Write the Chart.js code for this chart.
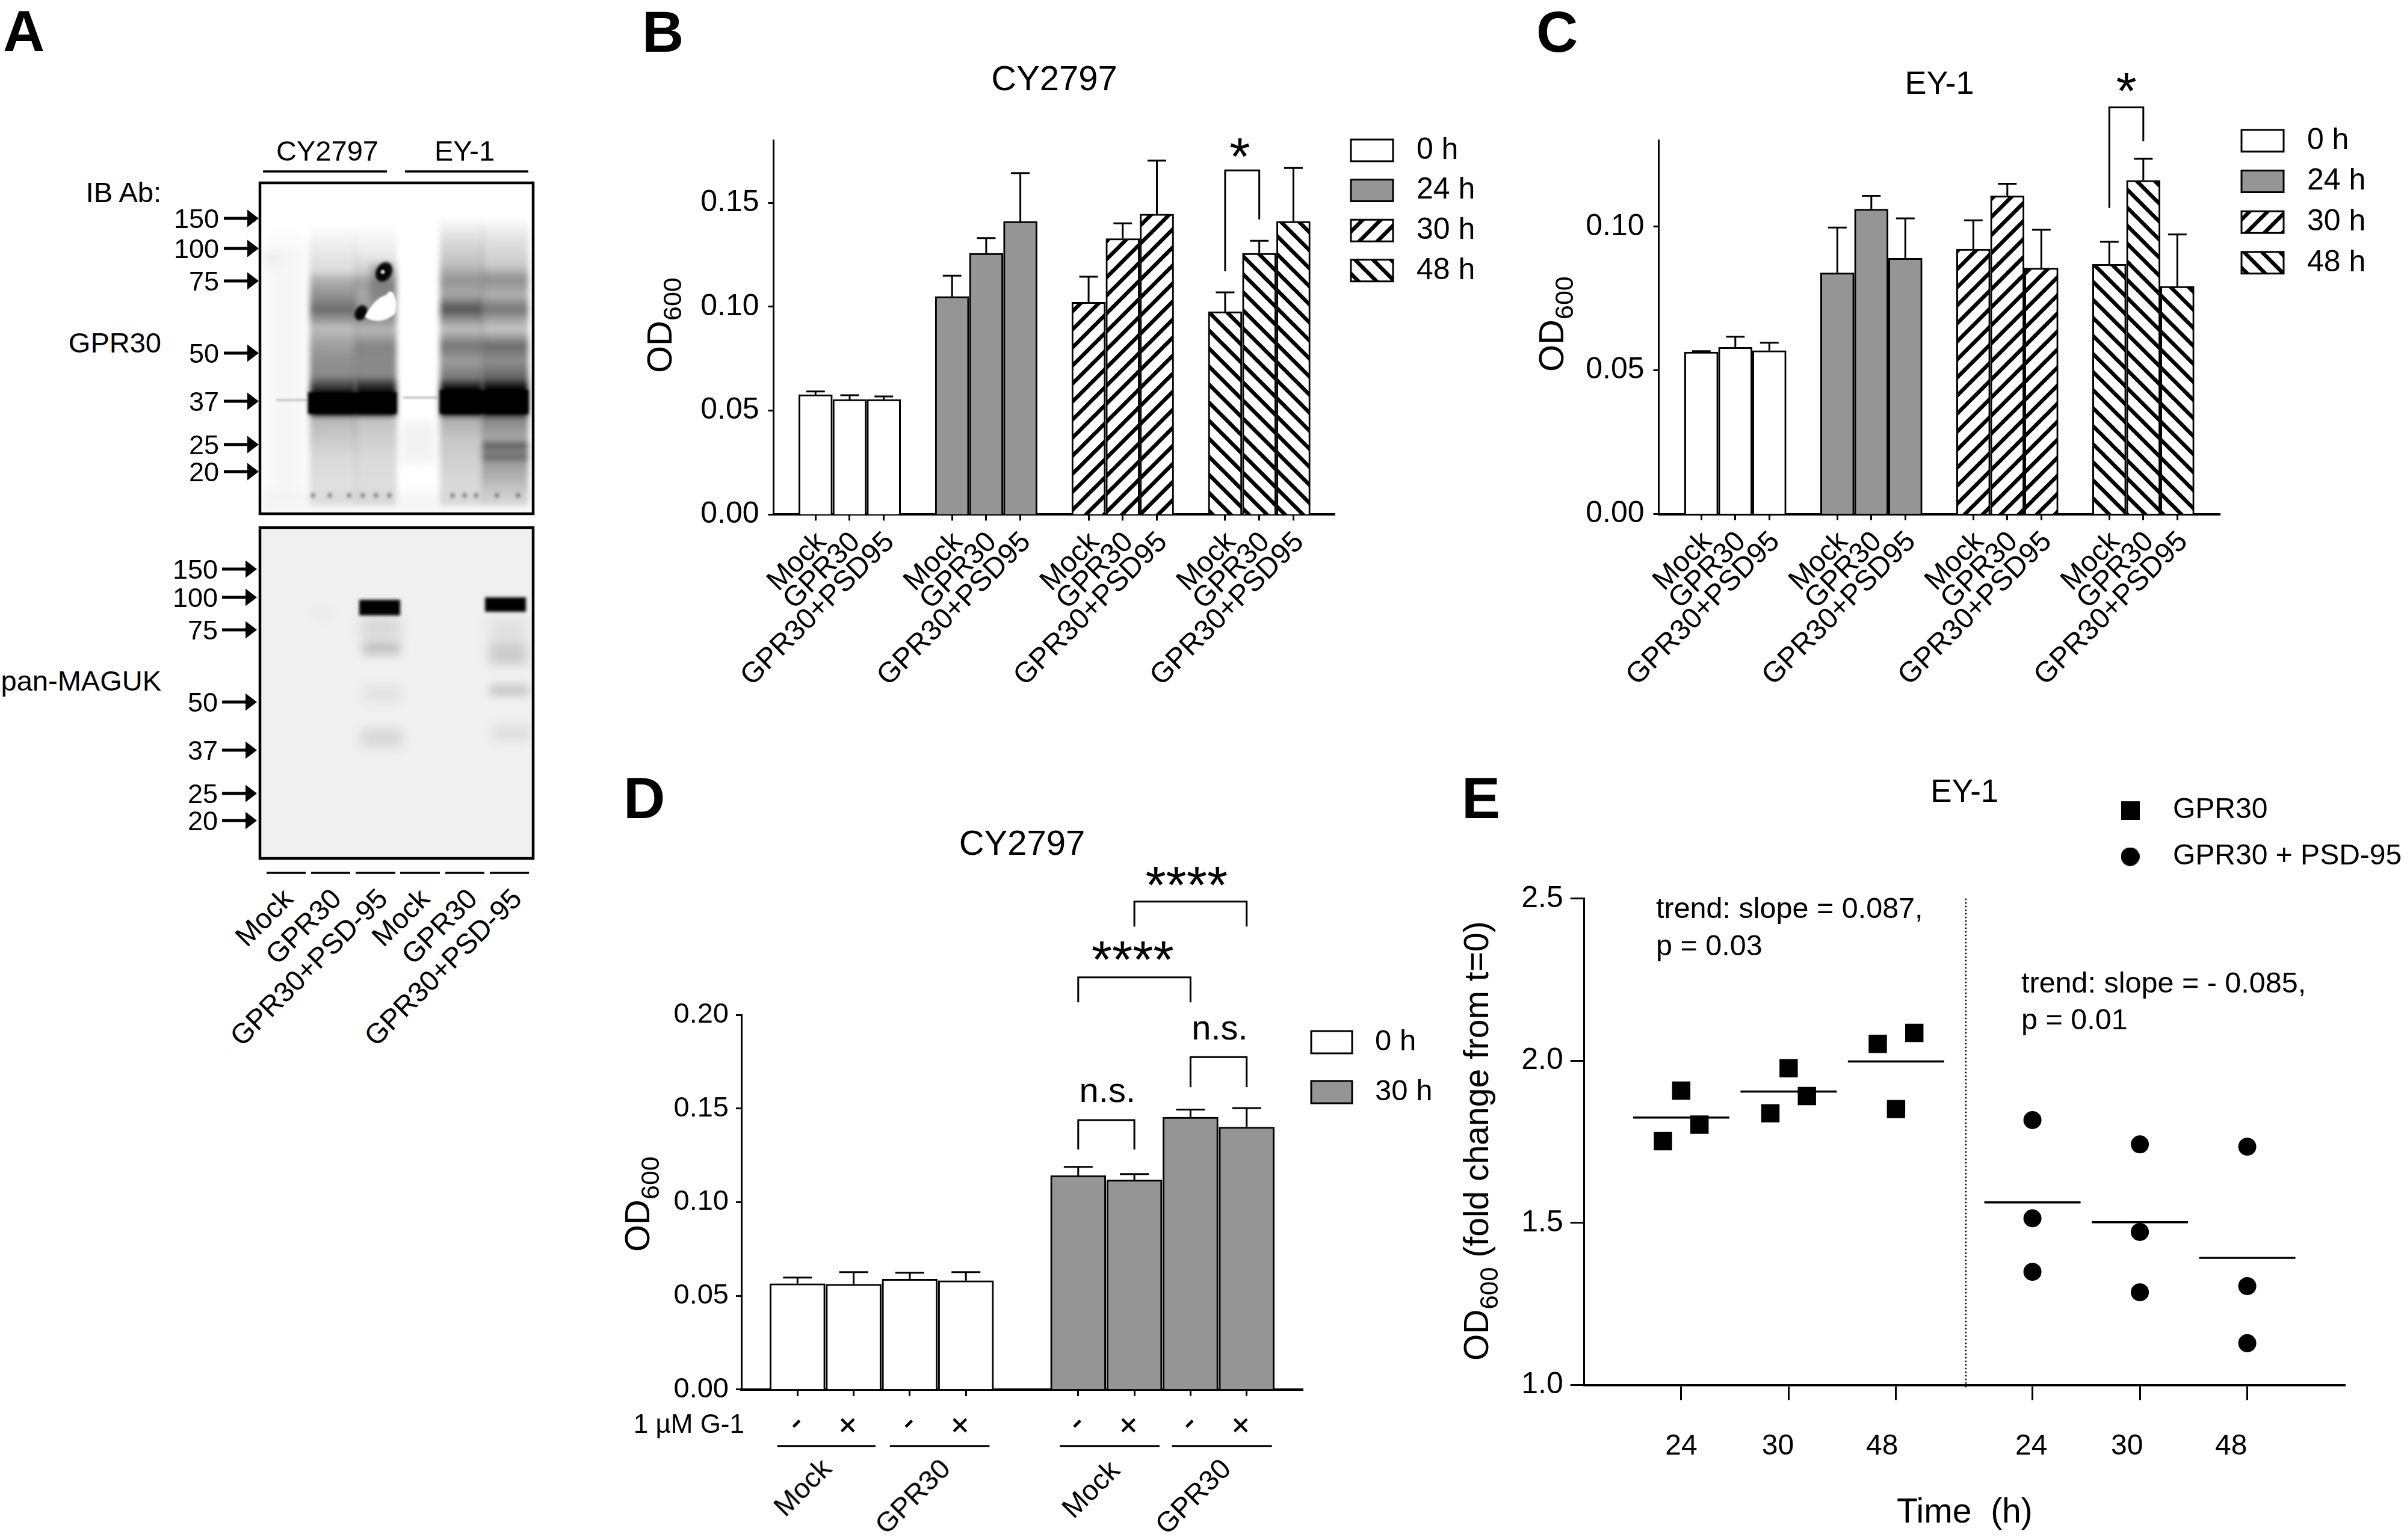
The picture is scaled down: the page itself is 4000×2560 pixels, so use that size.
<!DOCTYPE html>
<html>
<head>
<meta charset="utf-8">
<title>GPR30 figure</title>
<script src="https://cdn.jsdelivr.net/npm/chart.js@4"></script>
<style>
  html, body { margin: 0; background: #fff; }
  body { position: relative; width: 4000px; height: 2560px; overflow: hidden; font-family: "Liberation Sans", sans-serif; color: #000; }
  canvas { position: absolute; display: block; }
  .t { position: absolute; white-space: pre; line-height: 1; }
</style>
</head>
<body>
<script>
//panel B values
const conditions = ['Mock', 'GPR30', 'GPR30+PSD95'];
const timesB = ['0 h', '24 h', '30 h', '48 h'];
const bMeans0 = [0.0577, 0.0554, 0.0554];
const bErrs0 = [0.0015, 0.0020, 0.0014];
const bMeans24 = [0.1049, 0.1257, 0.1410];
const bErrs24 = [0.0100, 0.0073, 0.0233];
const bMeans30 = [0.1022, 0.1328, 0.1446];
const bErrs30 = [0.0122, 0.0073, 0.0257];
const bMeans48 = [0.0976, 0.1257, 0.1410];
const bErrs48 = [0.0093, 0.0060, 0.0257];
const bTicks = [0, 0.05, 0.10, 0.15];

//panel C values
const cMeans0 = [0.0564, 0.0580, 0.0569];
const cErrs0 = [0.0003, 0.0037, 0.0027];
const cMeans24 = [0.0839, 0.1061, 0.0890];
const cErrs24 = [0.0158, 0.0046, 0.0139];
const cMeans30 = [0.0922, 0.1107, 0.0856];
const cErrs30 = [0.0100, 0.0042, 0.0133];
const cMeans48 = [0.0869, 0.1161, 0.0792];
const cErrs48 = [0.0078, 0.0075, 0.0181];
const cTicks = [0, 0.05, 0.10];

//panel D values
const g1Labels = ['-', '+'];
const timesD = ['0 h', '30 h'];
const dMeans0 = [0.0565, 0.0562, 0.0589, 0.0581];
const dErrs0 = [0.0032, 0.0064, 0.0034, 0.0045];
const dMeans30 = [0.1142, 0.1119, 0.1454, 0.1401];
const dErrs30 = [0.0046, 0.0031, 0.0040, 0.0101];
const dTicks = [0, 0.05, 0.10, 0.15, 0.20];

//panel E values
const eTimes = ['24', '30', '48'];
const eSeries = ['GPR30', 'GPR30 + PSD-95'];
const eGpr24 = [1.752, 1.908, 1.803];
const eGpr30 = [1.838, 1.977, 1.891];
const eGpr48 = [2.052, 1.851, 2.086];
const ePsd24 = [1.817, 1.514, 1.349];
const ePsd30 = [1.742, 1.472, 1.286];
const ePsd48 = [1.735, 1.305, 1.129];
const eGprMeans = [1.825, 1.905, 1.998];
const ePsdMeans = [1.563, 1.502, 1.392];
const eTicks = [1.0, 1.5, 2.0, 2.5];

//panel A texts
const weights = ['150', '100', '75', '50', '37', '25', '20'];
const laneNames = ['Mock', 'GPR30', 'GPR30+PSD-95', 'Mock', 'GPR30', 'GPR30+PSD-95'];

const FONT = '"Liberation Sans", sans-serif';
Chart.defaults.font.family = FONT;
Chart.defaults.color = '#000';
Chart.defaults.animation = false;
Chart.defaults.responsive = false;
Chart.defaults.devicePixelRatio = 1;
Chart.defaults.events = [];
Chart.defaults.plugins.tooltip.enabled = false;

const GREY = '#959595';

function addCanvas(left, top, w, h) {
  const c = document.createElement('canvas');
  c.width = w;
  c.height = h;
  c.style.left = left + 'px';
  c.style.top = top + 'px';
  document.body.appendChild(c);
  return c;
}

// text placed on the page, anchor: 0 left, 0.5 middle, 1 right
function pageText(str, x, y, size, anchor = 0, rot = 0, bold = false) {
  const d = document.createElement('div');
  d.className = 't';
  d.textContent = str;
  d.style.left = x + 'px';
  d.style.top = y + 'px';
  d.style.fontSize = size + 'px';
  if (bold) d.style.fontWeight = 'bold';
  d.style.transformOrigin = (anchor * 100) + '% 50%';
  d.style.transform = `translate(${-anchor * 100}%, -50%) rotate(${rot}deg)`;
  document.body.appendChild(d);
}

// rotated axis label with a real subscript, reads upward from (baseX, bottomY)
function odLabel(baseX, bottomY, size, subSize, rest = '') {
  const d = document.createElement('div');
  d.className = 't';
  d.style.left = (baseX - 0.8465 * size) + 'px';
  d.style.top = bottomY + 'px';
  d.style.fontSize = size + 'px';
  d.style.transformOrigin = '0 0';
  d.style.transform = 'rotate(-90deg)';
  d.innerHTML = `OD<span style="font-size:${subSize}px;position:relative;top:16px;line-height:0">600</span>${rest}`;
  document.body.appendChild(d);
}

function hatch(dir) {
  const n = 30;
  const tile = document.createElement('canvas');
  tile.width = n;
  tile.height = n;
  const g = tile.getContext('2d');
  g.fillStyle = '#fff';
  g.fillRect(0, 0, n, n);
  g.strokeStyle = '#000';
  g.lineWidth = 6.5;
  if (dir > 0) g.transform(-1, 0, 0, 1, n, 0);
  for (const k of [-n, 0, n]) {
    g.beginPath();
    g.moveTo(k - 5, -5);
    g.lineTo(k + n + 5, n + 5);
    g.stroke();
  }
  return g.createPattern(tile, 'repeat');
}
const hatchUp = hatch(1);
const hatchDown = hatch(-1);

// whiskers go up only, as in the figure
const errorBars = {
  id: 'errorBars',
  afterDatasetsDraw(chart) {
    const { ctx, scales } = chart;
    chart.data.datasets.forEach((ds, i) => {
      if (!ds.errs) return;
      chart.getDatasetMeta(i).data.forEach((bar, j) => {
        const top = scales.y.getPixelForValue(ds.means[j] + ds.errs[j]);
        const base = scales.y.getPixelForValue(ds.means[j]);
        ctx.save();
        ctx.strokeStyle = '#000';
        ctx.lineWidth = 3;
        ctx.beginPath();
        ctx.moveTo(bar.x, base);
        ctx.lineTo(bar.x, top);
        ctx.moveTo(bar.x - ds.cap / 2, top);
        ctx.lineTo(bar.x + ds.cap / 2, top);
        ctx.stroke();
        ctx.restore();
      });
    });
  }
};

// significance brackets and marks, in axis units
function annotate(brackets, marks) {
  return {
    id: 'annotate',
    afterDraw(chart) {
      const { ctx, scales } = chart;
      const X = v => scales.x.getPixelForValue(v);
      const Y = v => scales.y.getPixelForValue(v);
      ctx.save();
      ctx.strokeStyle = '#000';
      ctx.lineWidth = 3;
      brackets.forEach(b => {
        ctx.beginPath();
        ctx.moveTo(X(b[0]), Y(b[3]));
        ctx.lineTo(X(b[0]), Y(b[2]));
        ctx.lineTo(X(b[1]), Y(b[2]));
        ctx.lineTo(X(b[1]), Y(b[4]));
        ctx.stroke();
      });
      ctx.fillStyle = '#000';
      ctx.textAlign = 'center';
      ctx.textBaseline = 'alphabetic';
      marks.forEach(m => {
        ctx.font = m[3] + 'px ' + FONT;
        ctx.fillText(m[2], X(m[0]), Y(m[1]));
      });
      ctx.restore();
    }
  };
}

function placeLegend(x, y) {
  return {
    id: 'placeLegend',
    afterLayout(chart) {
      const l = chart.legend;
      const pad = l.options.labels.padding;
      l.left = x - pad;
      l.top = y - pad;
      l.right = chart.width;
      l.bottom = chart.height;
    }
  };
}

function legendOpts(size, boxW, boxH, pad) {
  return {
    position: 'chartArea',
    align: 'start',
    labels: {
      font: { size: size, lineHeight: 1 },
      color: '#000',
      boxWidth: boxW,
      boxHeight: boxH,
      padding: pad,
      generateLabels: c => Chart.defaults.plugins.legend.labels.generateLabels(c).map(i => ({ ...i, text: ' ' + i.text }))
    }
  };
}

function titleOpts(text, size, centerY, plotTop) {
  const lh = size * 1.2;
  const top = centerY - lh / 2;
  return {
    display: true,
    text: text,
    fullSize: false,
    color: '#000',
    font: { size: size, weight: 'normal' },
    padding: { top: top, bottom: plotTop - top - lh }
  };
}

function yAxis(ticks, digits, max, fontSize, fixedWidth, tickLen, pad) {
  return {
    type: 'linear',
    min: 0,
    max: max,
    bounds: 'data',
    afterBuildTicks: s => { s.ticks = ticks.map(v => ({ value: v })); },
    afterFit: s => { s.width = fixedWidth; },
    ticks: { font: { size: fontSize }, padding: pad, color: '#000', callback: v => v.toFixed(digits) },
    grid: { drawOnChartArea: false, tickLength: tickLen, tickWidth: 3, tickColor: '#000', color: '#000' },
    border: { color: '#000', width: 3 }
  };
}

function xAxis(slots, min, max, fontSize, fixedHeight, tickLen, pad, nudge, label) {
  return {
    type: 'linear',
    min: min,
    max: max,
    bounds: 'data',
    offset: false,
    afterBuildTicks: s => { s.ticks = slots.map(v => ({ value: v })); },
    afterFit: s => { s.height = fixedHeight; },
    ticks: { font: { size: fontSize }, padding: pad, labelOffset: nudge, color: '#000', autoSkip: false, minRotation: 45, maxRotation: 45, callback: label },
    grid: { offset: false, drawOnChartArea: false, tickLength: tickLen, tickWidth: 3, tickColor: '#000', color: '#000' },
    border: { color: '#000', width: 4 }
  };
}

function barSet(label, means, errs, slots, fill, thick, cap) {
  return {
    label: label,
    means: means,
    errs: errs,
    cap: cap,
    data: means.map((v, i) => ({ x: slots[i], y: v })),
    backgroundColor: fill,
    borderColor: '#000',
    borderWidth: 3,
    barThickness: thick,
    grouped: false
  };
}

const slots3 = g => [0, 1, 2].map(j => g * 4 + j);
const groupedSlots = [0, 1, 2, 3].flatMap(slots3);

//chart B
new Chart(addCanvas(1040, 0, 1460, 1240), {
  type: 'bar',
  data: {
    datasets: [
      barSet(timesB[0], bMeans0, bErrs0, slots3(0), '#fff', 56, 31),
      barSet(timesB[1], bMeans24, bErrs24, slots3(1), GREY, 56, 31),
      barSet(timesB[2], bMeans30, bErrs30, slots3(2), hatchUp, 56, 31),
      barSet(timesB[3], bMeans48, bErrs48, slots3(3), hatchDown, 56, 31)
    ]
  },
  options: {
    layout: { autoPadding: false, padding: { right: 281.4 } },
    scales: {
      x: xAxis(groupedSlots, -1.23, 15.22, 48, 384.6, 10, 8, 10, v => conditions[v % 4]),
      y: yAxis(bTicks, 2, 0.18, 50, 245.5, 9, 15)
    },
    plugins: {
      title: titleOpts('CY2797', 58, 134, 233.4),
      legend: legendOpts(50, 70, 36, 16.6)
    }
  },
  plugins: [
    errorBars,
    annotate([[12, 13, 0.1656, 0.117, 0.142]], [[12.43, 0.1637, '*', 88]]),
    placeLegend(1205, 225)
  ]
});

//chart C
new Chart(addCanvas(2500, 0, 1500, 1240), {
  type: 'bar',
  data: {
    datasets: [
      barSet(timesB[0], cMeans0, cErrs0, slots3(0), '#fff', 56, 31),
      barSet(timesB[1], cMeans24, cErrs24, slots3(1), GREY, 56, 31),
      barSet(timesB[2], cMeans30, cErrs30, slots3(2), hatchUp, 56, 31),
      barSet(timesB[3], cMeans48, cErrs48, slots3(3), hatchDown, 56, 31)
    ]
  },
  options: {
    layout: { autoPadding: false, padding: { right: 310.5 } },
    scales: {
      x: xAxis(groupedSlots, -1.253, 15.26, 48, 385.4, 10, 8, 10, v => conditions[v % 4]),
      y: yAxis(cTicks, 2, 0.13, 50, 256.5, 9, 15)
    },
    plugins: {
      title: titleOpts('EY-1', 54, 141.5, 233.4),
      legend: legendOpts(50, 70, 36, 17.6)
    }
  },
  plugins: [
    errorBars,
    annotate([[12, 13, 0.1415, 0.1065, 0.1297]], [[12.5, 0.141, '*', 88]]),
    placeLegend(1225, 209)
  ]
});

//chart D
const dSlots0 = [0, 1, 2, 3];
const dSlots30 = [5, 6, 7, 8];
new Chart(addCanvas(1000, 1260, 1400, 1300), {
  type: 'bar',
  data: {
    datasets: [
      barSet(timesD[0], dMeans0, dErrs0, dSlots0, '#fff', 92, 48),
      barSet(timesD[1], dMeans30, dErrs30, dSlots30, GREY, 92, 48)
    ]
  },
  options: {
    layout: { autoPadding: false, padding: { right: 235 } },
    scales: {
      x: xAxis(dSlots0.concat(dSlots30), -1, 9, 60, 250.3, 11, 13, 5, v => g1Labels[[0, 1, 0, 1, 0, 0, 1, 0, 1][v]]),
      y: yAxis(dTicks, 2, 0.20, 47, 232, 9, 12)
    },
    plugins: {
      title: titleOpts('CY2797', 58, 145, 427),
      legend: legendOpts(49, 68, 37, 34)
    }
  },
  plugins: [
    errorBars,
    annotate(
      [[6, 8, 0.2605, 0.2471, 0.2471], [5, 7, 0.22, 0.2067, 0.2067], [7, 8, 0.1774, 0.1614, 0.1614], [5, 6, 0.1438, 0.1281, 0.1281]],
      [[6.93, 0.2597, '****', 88], [5.97, 0.2198, '****', 88], [7.52, 0.1867, 'n.s.', 58], [5.52, 0.1535, 'n.s.', 58]]
    ),
    {
      id: 'groupLines',
      afterDraw(chart) {
        const { ctx, scales } = chart;
        const y = scales.y.getPixelForValue(0) + 94;
        ctx.save();
        ctx.strokeStyle = '#000';
        ctx.lineWidth = 3;
        [[-0.36, 1.39], [1.645, 3.42], [4.67, 6.45], [6.67, 8.45]].forEach(s => {
          ctx.beginPath();
          ctx.moveTo(scales.x.getPixelForValue(s[0]), y);
          ctx.lineTo(scales.x.getPixelForValue(s[1]), y);
          ctx.stroke();
        });
        ctx.restore();
      }
    },
    placeLegend(1179, 448)
  ]
});

//chart E
const eGprSlots = [0, 1, 2];
const ePsdSlots = [3.27, 4.27, 5.27];
const eLabelSlots = [0, 0.9, 1.87, 3.26, 4.15, 5.12];
const swarm = [-0.17, 0, 0.17];

function dotImage(square) {
  const c = document.createElement('canvas');
  c.width = 31;
  c.height = 31;
  const g = c.getContext('2d');
  g.fillStyle = '#000';
  if (square) {
    g.fillRect(0, 0, 31, 31);
  } else {
    g.beginPath();
    g.arc(15.5, 15.5, 15.5, 0, Math.PI * 2);
    g.fill();
  }
  return c;
}
const gprDot = dotImage(true);
const psdDot = dotImage(false);

new Chart(addCanvas(2400, 1260, 1600, 1300), {
  type: 'scatter',
  data: {
    datasets: [
      {
        label: eSeries[0],
        data: [eGpr24, eGpr30, eGpr48].flatMap((vals, g) => vals.map((v, i) => ({ x: eGprSlots[g] + swarm[i], y: v }))),
        pointStyle: 'rect',
        pointRadius: 21.5,
        pointBorderWidth: 0,
        backgroundColor: '#000',
        borderColor: '#000'
      },
      {
        label: eSeries[1],
        data: [ePsd24, ePsd30, ePsd48].flatMap((vals, g) => vals.map(v => ({ x: ePsdSlots[g], y: v }))),
        pointStyle: 'circle',
        pointRadius: 15,
        pointBorderWidth: 0,
        backgroundColor: '#000',
        borderColor: '#000'
      },
      {
        label: 'mean',
        data: eGprMeans.map((v, i) => ({ x: eGprSlots[i], y: v })).concat(ePsdMeans.map((v, i) => ({ x: ePsdSlots[i], y: v }))),
        pointStyle: 'line',
        pointRadius: 80,
        pointBorderWidth: 3.5,
        pointBorderColor: '#000',
        backgroundColor: '#000'
      }
    ]
  },
  options: {
    layout: { autoPadding: false, padding: { right: 103 } },
    scales: {
      x: {
        type: 'linear',
        min: -0.903,
        max: 6.18,
        bounds: 'data',
        weight: 0,
        afterBuildTicks: s => { s.ticks = eGprSlots.concat(ePsdSlots).map(v => ({ value: v })); },
        afterFit: s => { s.height = 30; },
        ticks: { display: false },
        grid: { drawOnChartArea: false, tickLength: 25, tickWidth: 3, tickColor: '#000', color: '#000' },
        border: { color: '#000', width: 3.5 }
      },
      xLabels: {
        type: 'linear',
        axis: 'x',
        position: 'bottom',
        weight: 1,
        min: -0.903,
        max: 6.18,
        bounds: 'data',
        afterBuildTicks: s => { s.ticks = eLabelSlots.map(v => ({ value: v })); },
        afterFit: s => { s.height = 227.7; },
        ticks: { font: { size: 48 }, padding: 36, color: '#000', autoSkip: false, maxRotation: 0, callback: (v, i) => eTimes[i % 3] },
        grid: { display: false },
        border: { display: false },
        title: { display: true, text: 'Time  (h)', color: '#000', font: { size: 57 }, padding: { top: 0, bottom: 11 } }
      },
      y: {
        type: 'linear',
        min: 1,
        max: 2.5,
        bounds: 'data',
        afterBuildTicks: s => { s.ticks = eTicks.map(v => ({ value: v })); },
        afterFit: s => { s.width = 232.7; },
        ticks: { font: { size: 50 }, padding: 12, color: '#000', callback: v => v.toFixed(1) },
        grid: { drawOnChartArea: false, tickLength: 23, tickWidth: 3, tickColor: '#000', color: '#000' },
        border: { color: '#000', width: 3 }
      }
    },
    plugins: {
      title: titleOpts('EY-1', 53, 58, 233.8),
      legend: {
        position: 'chartArea',
        align: 'start',
        labels: {
          font: { size: 48, lineHeight: 1 },
          color: '#000',
          usePointStyle: true,
          pointStyleWidth: 94,
          padding: 29,
          filter: item => item.text !== 'mean',
          generateLabels: c => Chart.defaults.plugins.legend.labels.generateLabels(c).map((i, k) => ({ ...i, pointStyle: k === 0 ? gprDot : psdDot }))
        }
      }
    }
  },
  plugins: [
    {
      id: 'divider',
      afterDraw(chart) {
        const { ctx, scales } = chart;
        const x = scales.x.getPixelForValue(2.65);
        ctx.save();
        ctx.strokeStyle = '#000';
        ctx.lineWidth = 2.5;
        ctx.setLineDash([2.5, 3.5]);
        ctx.beginPath();
        ctx.moveTo(x, scales.y.getPixelForValue(2.5));
        ctx.lineTo(x, scales.y.getPixelForValue(1) + 4);
        ctx.stroke();
        ctx.restore();
      }
    },
    placeLegend(1093, 63)
  ]
});

//texts around the charts
pageText('A', 5, 52, 96, 0, 0, true);
pageText('B', 1067, 53, 96, 0, 0, true);
pageText('C', 2553, 53, 96, 0, 0, true);
pageText('D', 1036, 1327, 96, 0, 0, true);
pageText('E', 2429, 1327, 96, 0, 0, true);
odLabel(1116, 620, 58, 43);
odLabel(2598, 618, 58, 43);
odLabel(1079, 2081, 58, 43);
odLabel(2473, 2262, 57, 42, ' (fold change from t=0)');
pageText('1 µM G-1', 1237, 2367, 44, 1);
[['Mock', 1333, 2472], ['GPR30', 1516, 2487], ['Mock', 1812, 2475], ['GPR30', 1982, 2487]].forEach(l => {
  pageText(l[0], l[1], l[2], 47, 0.5, -45);
});
pageText('trend: slope = 0.087,', 2752, 1509, 48.5);
pageText('p = 0.03', 2752, 1571, 48.5);
pageText('trend: slope = - 0.085,', 3359, 1633, 48.5);
pageText('p = 0.01', 3359, 1694, 48.5);

//panel A: the blots are pictures, painted as soft lanes and bands
const blotCanvas = addCanvas(360, 270, 540, 1190);
const blot = blotCanvas.getContext('2d');
blot.translate(-360, -270);

// lane x0, x1, then [y, darkness] down the lane
const topLanes = [
  [515, 592, [[370, 0], [410, 0.07], [450, 0.14], [465, 0.3], [500, 0.48], [515, 0.58], [530, 0.42], [545, 0.25], [570, 0.36], [590, 0.42], [625, 0.46], [640, 0.72], [655, 0.95], [665, 1], [686, 1], [695, 0.28], [760, 0.15], [830, 0.1]]],
  [590, 659, [[370, 0], [420, 0.08], [450, 0.18], [470, 0.38], [490, 0.34], [530, 0.44], [548, 0.28], [575, 0.48], [600, 0.46], [625, 0.46], [640, 0.8], [655, 1], [686, 1], [695, 0.24], [760, 0.15], [830, 0.12]]],
  [731, 803, [[360, 0], [400, 0.14], [440, 0.25], [465, 0.42], [490, 0.34], [514, 0.68], [535, 0.38], [548, 0.25], [575, 0.54], [600, 0.38], [630, 0.54], [640, 0.85], [650, 1], [686, 1], [695, 0.32], [730, 0.22], [830, 0.12]]],
  [801, 878, [[360, 0], [400, 0.12], [440, 0.2], [465, 0.44], [490, 0.3], [514, 0.54], [535, 0.32], [548, 0.22], [575, 0.58], [600, 0.44], [630, 0.62], [640, 0.9], [650, 1], [686, 1], [695, 0.48], [730, 0.34], [742, 0.68], [750, 0.42], [758, 0.62], [770, 0.38], [800, 0.28], [830, 0.14]]]
];
// x0, x1, y0, y1, darkness, blur
const topBands = [
  [440, 510, 400, 820, 0.035, 16], [441, 465, 418, 442, 0.05, 9],
  [459, 510, 663, 667, 0.18, 1.5], [670, 727, 659, 663, 0.22, 1.5],
  [665, 725, 700, 770, 0.05, 9], [432, 886, 815, 860, 0.03, 8],
  [615, 657, 440, 500, 0.2, 6]
];
// solid part of the 37 kDa band, laid over the lanes
const joinedBands = [[512, 659, 652, 688, 1, 2], [731, 878, 648, 688, 1, 2]];
const lowerBands = [
  [520, 550, 1010, 1030, 0.02, 9],
  [600, 665, 1026, 1062, 0.10, 10], [603, 665, 1068, 1088, 0.20, 8], [605, 665, 1138, 1168, 0.05, 9], [600, 668, 1212, 1242, 0.10, 9],
  [812, 875, 1026, 1104, 0.06, 10], [815, 875, 1072, 1104, 0.10, 9], [815, 878, 1138, 1157, 0.16, 7], [820, 880, 1205, 1232, 0.07, 9],
  [597, 665, 997, 1023, 1, 2.5], [806, 874, 993, 1017, 1, 2.5]
];
// x, y, radius x, radius y, darkness, blur
const topSpots = [[638, 452, 13, 17, 0.95, 2], [600, 520, 10, 13, 0.95, 2]];
const specks = [520, 548, 580, 603, 625, 647, 752, 772, 791, 826, 861];

function paintBands(bands, x, y, w, h, bg) {
  blot.save();
  blot.beginPath();
  blot.rect(x, y, w, h);
  blot.clip();
  if (bg) {
    blot.fillStyle = bg;
    blot.fillRect(x, y, w, h);
  }
  bands.forEach(b => {
    blot.filter = `blur(${b[5]}px)`;
    blot.fillStyle = `rgba(0,0,0,${b[4]})`;
    blot.fillRect(b[0], b[2], b[1] - b[0], b[3] - b[2]);
  });
  blot.restore();
}

function paintLanes(lanes) {
  const y0 = 360, y1 = 840;
  blot.save();
  blot.beginPath();
  blot.rect(432, 304, 454, 550);
  blot.clip();
  lanes.forEach(l => {
    const g = blot.createLinearGradient(0, y0, 0, y1);
    l[2].forEach(s => g.addColorStop((s[0] - y0) / (y1 - y0), `rgba(0,0,0,${s[1]})`));
    blot.filter = 'blur(5px)';
    blot.fillStyle = g;
    blot.fillRect(l[0], y0, l[1] - l[0], y1 - y0);
  });
  blot.restore();
}

paintBands(topBands, 432, 304, 454, 550, '#fff');
paintLanes(topLanes);
paintBands(joinedBands, 432, 304, 454, 550);
blot.save();
topSpots.forEach(s => {
  blot.filter = `blur(${s[5]}px)`;
  blot.fillStyle = `rgba(0,0,0,${s[4]})`;
  blot.beginPath();
  blot.ellipse(s[0], s[1], s[2], s[3], 0.5, 0, Math.PI * 2);
  blot.fill();
});
blot.filter = 'blur(1px)';
blot.fillStyle = 'rgba(255,255,255,0.8)';
blot.beginPath();
blot.arc(636, 452, 3.5, 0, Math.PI * 2);
blot.fill();
// the white hole in lane 3
blot.filter = 'blur(1.5px)';
blot.fillStyle = '#fff';
blot.beginPath();
blot.moveTo(606, 527);
blot.quadraticCurveTo(622, 496, 642, 490);
blot.quadraticCurveTo(648, 480, 654, 488);
blot.quadraticCurveTo(662, 505, 656, 522);
blot.quadraticCurveTo(632, 542, 606, 527);
blot.fill();
blot.filter = 'blur(2.5px)';
blot.fillStyle = 'rgba(0,0,0,0.45)';
specks.forEach(x => blot.fillRect(x - 3, 820, 6, 7));
blot.restore();
paintBands(lowerBands, 432, 877, 454, 550, '#f0f0f0');

blot.strokeStyle = '#000';
blot.lineWidth = 4.5;
blot.strokeRect(432, 304, 454, 550);
blot.strokeRect(432, 877, 454, 550);

function arrow(x0, x1, y) {
  blot.fillStyle = '#000';
  blot.fillRect(x0, y - 2.5, x1 - x0 - 15, 5);
  blot.beginPath();
  blot.moveTo(x1 - 19, y - 14.5);
  blot.lineTo(x1, y);
  blot.lineTo(x1 - 19, y + 14.5);
  blot.fill();
}

function rule(x0, x1, y) {
  blot.fillStyle = '#000';
  blot.fillRect(x0, y - 1.75, x1 - x0, 3.5);
}

[363, 413, 467, 587, 667, 739, 784].forEach((y, i) => {
  arrow(372, 430, y);
  pageText(weights[i], 364, y, 45, 1);
});
[946, 993, 1047, 1167, 1247, 1319, 1364].forEach((y, i) => {
  arrow(369, 427, y);
  pageText(weights[i], 362, y, 45, 1);
});

rule(437, 643, 285);
rule(673, 878, 285);
[[443, 508], [517, 582], [591, 657], [665, 731], [740, 805], [814, 879]].forEach(s => rule(s[0], s[1], 1451));

pageText('CY2797', 544, 250, 47, 0.5);
pageText('EY-1', 772, 250, 47, 0.5);
pageText('IB Ab:', 268, 319, 47, 1);
pageText('GPR30', 268, 569, 47, 1);
pageText('pan-MAGUK', 268, 1131, 47, 1);
[478, 558, 635, 705, 784, 858].forEach((x, i) => {
  pageText(laneNames[i], x, 1485, 47, 1, -45);
});
</script>
</body>
</html>
